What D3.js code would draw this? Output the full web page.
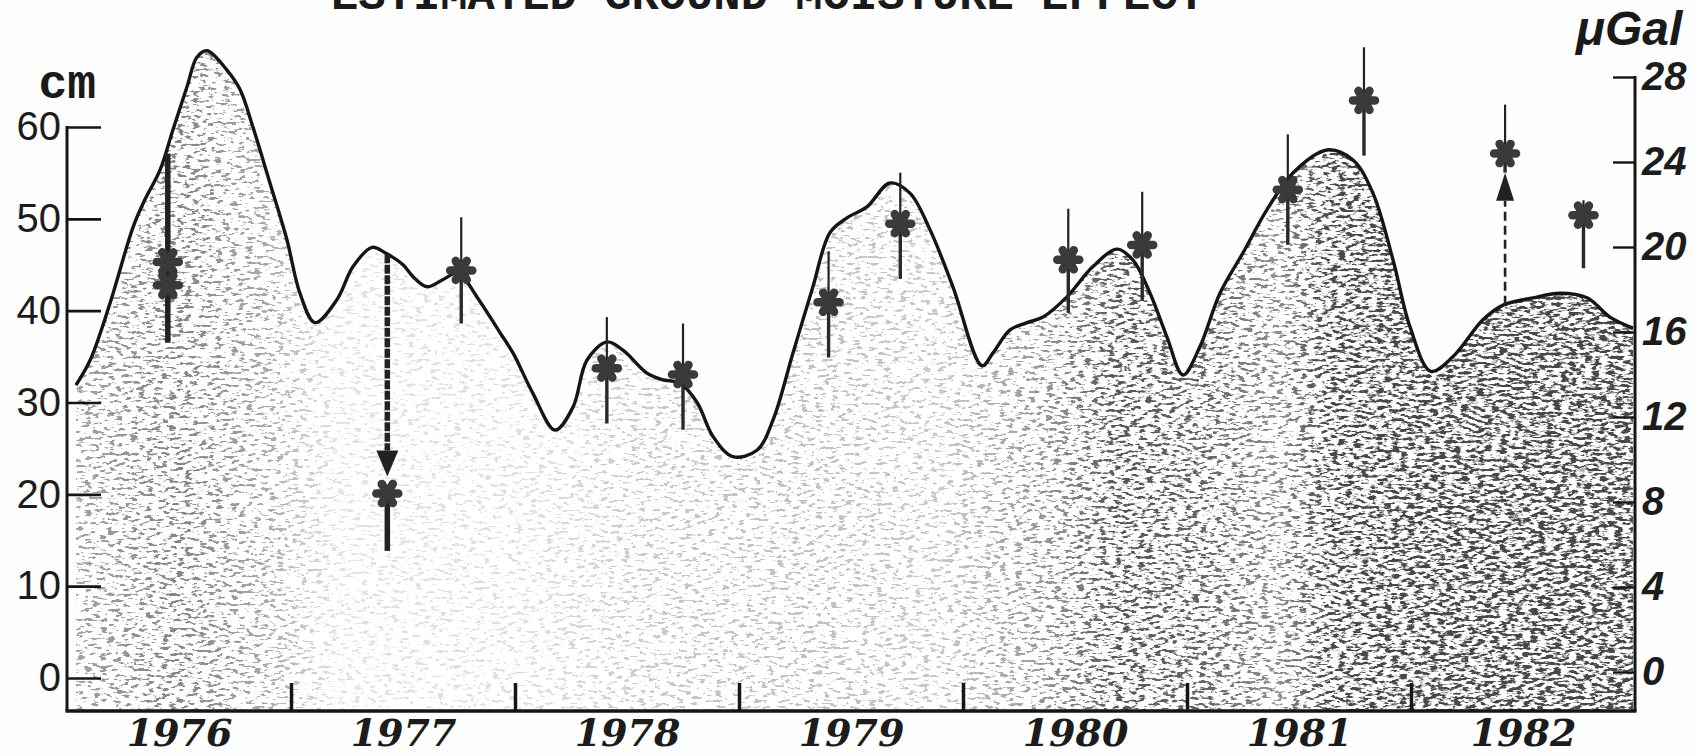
<!DOCTYPE html>
<html><head><meta charset="utf-8">
<script src="https://cdn.jsdelivr.net/npm/d3@7/dist/d3.min.js"></script>
<style>
html,body{margin:0;padding:0;background:#fff;}
svg{display:block;}
</style></head>
<body>
<svg id="chart" width="1701" height="756"></svg>
<script>
// ---------------- DATA ----------------
const titleText = "ESTIMATED GROUND MOISTURE EFFECT";
const leftUnit = "cm";
const rightUnit = "\u03BCGal";

// estimated ground moisture curve (decimal year, cm of water)
const curveYears = [1976.040,1976.103,1976.192,1976.295,1976.348,1976.415,1976.473,1976.536,1976.580,1976.625,
  1976.714,1976.772,1976.830,1976.906,1976.982,1977.040,1977.107,1977.205,1977.277,1977.362,
  1977.420,1977.500,1977.545,1977.607,1977.679,1977.746,1977.830,1977.933,1977.991,1978.080,
  1978.179,1978.259,1978.321,1978.411,1978.482,1978.589,1978.656,1978.737,1978.813,1978.884,
  1978.973,1979.080,1979.152,1979.241,1979.330,1979.406,1979.482,1979.571,1979.674,1979.763,
  1979.853,1979.955,1980.085,1980.134,1980.210,1980.286,1980.357,1980.464,1980.580,1980.688,
  1980.759,1980.835,1980.911,1980.982,1981.058,1981.147,1981.250,1981.357,1981.473,1981.625,
  1981.741,1981.830,1981.920,1981.996,1982.089,1982.188,1982.321,1982.411,1982.545,1982.665,
  1982.786,1982.888,1982.991];
const curveCm = [31.9,34.6,40.8,49.1,52.1,55.3,59.7,64.4,67.6,68.3,
  66.2,64.1,60.0,53.9,47.7,41.9,38.7,41.2,44.8,46.9,
  46.3,45.0,43.7,42.6,43.4,44.1,41.5,37.6,35.4,31.0,
  27.0,29.5,34.6,36.6,35.7,33.2,32.5,32.1,30.0,26.3,
  24.1,24.8,28.1,35.4,42.6,48.5,50.1,51.3,53.9,52.8,
  48.8,42.6,34.0,35.4,37.9,38.7,39.3,41.5,44.8,46.7,
  45.5,41.9,37.1,33.0,36.1,41.9,46.3,51.0,55.0,57.5,
  56.4,52.8,45.5,38.2,33.4,35.0,39.0,40.6,41.4,41.9,
  41.4,39.3,38.1];

// observed gravity values (decimal year, microGal)
const starYears = [1976.45,1976.45,1977.43,1977.76,1978.41,1978.75,1979.40,1979.72,1980.47,1980.80,1981.45,1981.79,1982.42,1982.77];
const starGal   = [19.3,   18.2,   8.4,    18.9,   14.3,   14.0,   17.4,   21.1,   19.4,   20.1,   22.7,   26.9,   24.4,   21.5];

// error bars (thin)
const barYears  = [1977.76,1978.41,1978.75,1979.40,1979.72,1980.47,1980.80,1981.45,1981.79,1982.42,1982.77];
const barTop    = [21.4,   16.7,   16.4,   19.8,   23.5,   21.8,   22.6,   25.3,   29.4,   26.7,   22.2];
const barBottom = [16.4,   11.7,   11.4,   14.8,   18.5,   16.9,   17.5,   20.1,   24.3,   23.5,   19.0];
const barMid    = [18.9,   14.3,   14.0,   17.4,   21.1,   19.4,   20.1,   22.7,   26.9,   24.4,   21.5];

// heavy error bars
const heavyYears  = [1976.45, 1977.43];
const heavyTop    = [24.4, 8.4];
const heavyBottom = [15.5, 5.7];

// arrows from the curve to the observed value
const arrowYears  = [1977.43, 1982.42];
const arrowTipGal = [9.2, 23.5];

// axis ticks
const cmTicks  = [0,10,20,30,40,50,60];
const galTicks = [0,4,8,12,16,20,24,28];
const yearBoundaries = [1977,1978,1979,1980,1981,1982];
const yearLabels = ["1976","1977","1978","1979","1980","1981","1982"];

// ---------------- DRAW ----------------
const W = 1701, H = 756;
const svg = d3.select("#chart");
svg.append("rect").attr("width", W).attr("height", H).attr("fill", "#fefefe");

const x = d3.scaleLinear().domain([1976, 1983]).range([67, 1635]);
const yCm = d3.scaleLinear().domain([0, 60]).range([678, 127]);
const yGal = d3.scaleLinear().domain([0, 28]).range([672, 77]);
const frameBottom = 711;
const ink = "#151515";

const curveData = curveYears.map((t, i) => ({t, v: curveCm[i]}));
const crv = d3.curveCatmullRom.alpha(0.5);

// defs: density gradient + dithering stipple filter
const defs = svg.append("defs");
const shadeStops = [
  [1976.0,"#d6d6d6"],[1976.5,"#c6c6c6"],[1976.9,"#d8d8d8"],[1977.2,"#f2f2f2"],
  [1978.1,"#f0f0f0"],[1978.6,"#e6e6e6"],[1979.3,"#e2e2e2"],[1979.9,"#e6e6e6"],
  [1980.4,"#cccccc"],[1980.7,"#b0b0b0"],[1981.1,"#b8b8b8"],[1981.4,"#cccccc"],
  [1981.7,"#a0a0a0"],[1982.2,"#949494"],[1983.0,"#909090"]];
const grad = defs.append("linearGradient").attr("id", "shade")
  .attr("gradientUnits", "userSpaceOnUse")
  .attr("x1", x(1976)).attr("x2", x(1983)).attr("y1", 0).attr("y2", 0);
shadeStops.forEach(([t, c]) => grad.append("stop").attr("offset", (t - 1976) / 7).attr("stop-color", c));

const K = 3;
const filt = defs.append("filter").attr("id", "stipple")
  .attr("filterUnits", "userSpaceOnUse")
  .attr("x", 0).attr("y", 0).attr("width", W).attr("height", H)
  .attr("color-interpolation-filters", "sRGB");
filt.append("feTurbulence").attr("type", "fractalNoise").attr("baseFrequency", "0.13 0.32")
  .attr("numOctaves", 3).attr("seed", 5).attr("result", "n0");
filt.append("feColorMatrix").attr("in", "n0").attr("type", "matrix")
  .attr("values", "1 0 0 0 0  1 0 0 0 0  1 0 0 0 0  0 0 0 0 1").attr("result", "n1");
const ct = filt.append("feComponentTransfer").attr("in", "n1").attr("result", "n2");
["feFuncR","feFuncG","feFuncB"].forEach(f => ct.append(f).attr("type", "linear")
  .attr("slope", 2.4).attr("intercept", -0.7 + 0.5 / K));
filt.append("feComposite").attr("in", "SourceGraphic").attr("in2", "n2").attr("operator", "arithmetic")
  .attr("k1", 0).attr("k2", K).attr("k3", -K).attr("k4", 1).attr("result", "d");
const ct2 = filt.append("feComponentTransfer").attr("in", "d");
["feFuncR","feFuncG","feFuncB"].forEach(f => ct2.append(f).attr("type", "linear")
  .attr("slope", 0.72).attr("intercept", 0.28));

// shaded area under the curve
const area = d3.area().x(d => x(d.t)).y0(frameBottom).y1(d => yCm(d.v)).curve(crv);
svg.append("path").datum(curveData).attr("d", area)
  .attr("fill", "url(#shade)").attr("filter", "url(#stipple)");

// curve
const line = d3.line().x(d => x(d.t)).y(d => yCm(d.v)).curve(crv);
svg.append("path").datum(curveData).attr("d", line)
  .attr("fill", "none").attr("stroke", ink).attr("stroke-width", 3.4).attr("stroke-linejoin", "round");

// left axis
const gL = svg.append("g").attr("transform", `translate(${x(1976)},0)`)
  .call(d3.axisLeft(yCm).tickValues(cmTicks).tickSizeInner(-34).tickSizeOuter(0).tickPadding(6));
gL.select(".domain").remove();
gL.selectAll(".tick line").attr("stroke", ink).attr("stroke-width", 2.6);
gL.attr("font-family", "'Liberation Sans', Arial, sans-serif").attr("font-size", 40);
gL.selectAll("text").attr("fill", "#1c1c1c");
svg.append("line").attr("x1", x(1976)).attr("x2", x(1976)).attr("y1", yCm(60) - 1).attr("y2", frameBottom)
  .attr("stroke", ink).attr("stroke-width", 3);

// right axis
const gR = svg.append("g").attr("transform", `translate(${x(1983)},0)`)
  .call(d3.axisRight(yGal).tickValues(galTicks).tickSizeInner(-22).tickSizeOuter(0).tickPadding(7));
gR.select(".domain").remove();
gR.selectAll(".tick line").attr("stroke", ink).attr("stroke-width", 2.4);
gR.attr("font-family", "'Liberation Sans', Arial, sans-serif").attr("font-size", 40)
  .attr("font-style", "italic").attr("font-weight", "bold");
gR.selectAll("text").attr("fill", "#1c1c1c");
svg.append("line").attr("x1", x(1983)).attr("x2", x(1983)).attr("y1", yGal(28) - 1).attr("y2", frameBottom)
  .attr("stroke", ink).attr("stroke-width", 3);

// bottom frame + year boundary ticks
svg.append("line").attr("x1", x(1976) - 1.5).attr("x2", x(1983) + 1.5).attr("y1", frameBottom).attr("y2", frameBottom)
  .attr("stroke", ink).attr("stroke-width", 3.5);
const gB = svg.append("g").attr("transform", `translate(0,${frameBottom})`)
  .call(d3.axisBottom(x).tickValues(yearBoundaries).tickSizeInner(-28).tickSizeOuter(0).tickFormat(""));
gB.select(".domain").remove();
gB.selectAll(".tick line").attr("stroke", ink).attr("stroke-width", 3.5);

// year labels (mid-year)
const gY = svg.append("g").attr("transform", `translate(0,${frameBottom})`)
  .call(d3.axisBottom(x).tickValues(yearLabels.map(d => +d + 0.5)).tickSize(0).tickPadding(8)
    .tickFormat((d, i) => yearLabels[i]));
gY.select(".domain").remove();
gY.attr("font-family", "'DejaVu Serif', serif").attr("font-size", 38)
  .attr("font-style", "italic").attr("font-weight", "bold");
gY.selectAll("text").attr("fill", "#1c1c1c");

// arrows from curve
function curveAt(t) {
  const i = d3.bisector(d => d.t).left(curveData, t);
  const a = curveData[Math.max(0, i - 1)], b = curveData[Math.min(curveData.length - 1, i)];
  if (a === b) return a.v;
  return a.v + (b.v - a.v) * (t - a.t) / (b.t - a.t);
}
arrowYears.forEach((t, i) => {
  const cx = x(t);
  const y0 = yCm(curveAt(t));
  const tip = yGal(arrowTipGal[i]);
  const down = tip > y0;
  const headLen = down ? 26 : 28, half = down ? 11 : 9;
  const base = down ? tip - headLen : tip + headLen;
  svg.append("line").attr("x1", cx).attr("x2", cx).attr("y1", y0).attr("y2", base)
    .attr("stroke", "#222").attr("stroke-width", down ? 5.5 : 2.6)
    .attr("stroke-dasharray", down ? "9 1.5" : "9 5");
  svg.append("path")
    .attr("d", `M${cx - half},${base}L${cx + half},${base}L${cx},${tip}Z`)
    .attr("fill", "#222");
});

// heavy error bars
heavyYears.forEach((t, i) => {
  svg.append("line").attr("x1", x(t)).attr("x2", x(t))
    .attr("y1", yGal(heavyTop[i])).attr("y2", yGal(heavyBottom[i]))
    .attr("stroke", "#222").attr("stroke-width", 5.5);
});

// thin error bars (lower half drawn heavier, like the original)
barYears.forEach((t, i) => {
  svg.append("line").attr("x1", x(t)).attr("x2", x(t))
    .attr("y1", yGal(barTop[i])).attr("y2", yGal(barMid[i]))
    .attr("stroke", "#222").attr("stroke-width", 2.2);
  svg.append("line").attr("x1", x(t)).attr("x2", x(t))
    .attr("y1", yGal(barMid[i])).attr("y2", yGal(barBottom[i]))
    .attr("stroke", "#2a2a2a").attr("stroke-width", 3.4);
});

// star symbols
const starInk = "#3a3a3a";
starYears.forEach((t, i) => {
  const cx = x(t), cy = yGal(starGal[i]);
  const g = svg.append("g");
  const r = 11;
  [0, 60, 120].forEach(a => {
    const rad = a * Math.PI / 180;
    g.append("line")
      .attr("x1", cx - r * Math.cos(rad)).attr("y1", cy - r * Math.sin(rad))
      .attr("x2", cx + r * Math.cos(rad)).attr("y2", cy + r * Math.sin(rad))
      .attr("stroke", starInk).attr("stroke-width", 8.5).attr("stroke-linecap", "round");
  });
  g.append("circle").attr("cx", cx).attr("cy", cy).attr("r", 8).attr("fill", starInk);
});

// texts
svg.append("text").attr("x", 331).attr("y", 9)
  .attr("font-family", "'Liberation Mono', 'Courier New', monospace").attr("font-size", 45)
  .attr("font-weight", "bold")
  .attr("textLength", 874).attr("lengthAdjust", "spacingAndGlyphs")
  .attr("fill", "#1a1a1a")
  .text(titleText);
svg.append("text").attr("x", 96).attr("y", 98).attr("text-anchor", "end")
  .attr("font-family", "'Liberation Mono', 'Courier New', monospace").attr("font-size", 48).attr("font-weight", "bold")
  .attr("fill", "#1a1a1a").text(leftUnit);
svg.append("text").attr("x", 1576).attr("y", 45)
  .attr("font-family", "'Liberation Sans', Arial, sans-serif").attr("font-size", 48)
  .attr("font-style", "italic").attr("font-weight", "bold")
  .attr("fill", "#1a1a1a").text(rightUnit);
</script>
</body></html>
